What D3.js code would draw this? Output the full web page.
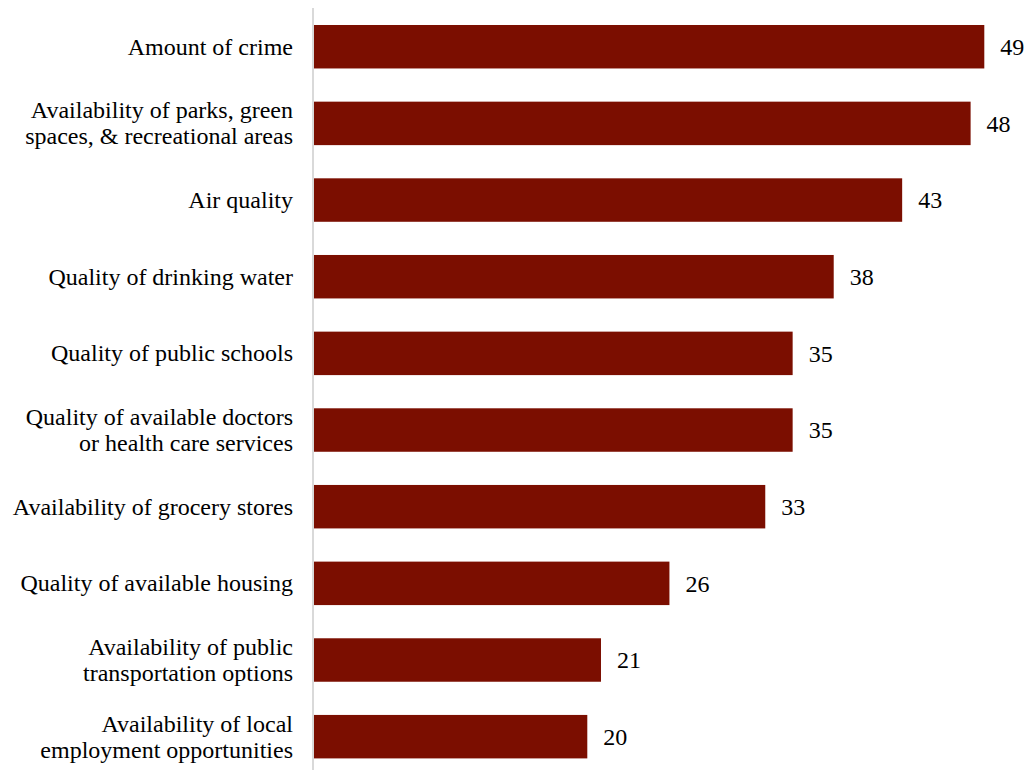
<!DOCTYPE html>
<html>
<head>
<meta charset="utf-8">
<script src="https://cdn.jsdelivr.net/npm/d3@7"></script>
<style>
  html, body { margin: 0; padding: 0; background: #fff; }
  svg { display: block; }
  text { font-family: "Liberation Serif", "Times New Roman", serif; fill: #000; }
</style>
</head>
<body>
<svg id="chart" width="1026" height="770"></svg>
<script>
// Category labels (each entry is a list of lines) and their values
const categories = [
  ["Amount of crime"],
  ["Availability of parks, green", "spaces, & recreational areas"],
  ["Air quality"],
  ["Quality of drinking water"],
  ["Quality of public schools"],
  ["Quality of available doctors", "or health care services"],
  ["Availability of grocery stores"],
  ["Quality of available housing"],
  ["Availability of public", "transportation options"],
  ["Availability of local", "employment opportunities"]
];
const values = [49, 48, 43, 38, 35, 35, 33, 26, 21, 20];

const width = 1026, height = 770;
const left = 313.5;
const fontSize = 24;
const svg = d3.select("#chart");

const x = d3.scaleLinear().domain([0, 49]).range([left, 984.3]);

const keys = categories.map((c, i) => i);
const y = d3.scaleBand()
  .domain(keys)
  .range([8.4, 775])
  .paddingInner(0.433)
  .paddingOuter(0.2165);

// Bars
svg.append("g")
  .selectAll("rect")
  .data(values)
  .join("rect")
  .attr("x", x(0))
  .attr("y", (d, i) => y(i))
  .attr("width", d => x(d) - x(0))
  .attr("height", y.bandwidth())
  .attr("fill", "#7b0e00");

// Value labels
svg.append("g")
  .selectAll("text")
  .data(values)
  .join("text")
  .attr("x", d => x(d) + 16)
  .attr("y", (d, i) => y(i) + y.bandwidth() / 2)
  .attr("dy", "0.35em")
  .attr("font-size", fontSize)
  .text(d => d);

// Category labels, right-aligned against the axis
const lineH = 26;
const lab = svg.append("g")
  .selectAll("text")
  .data(categories)
  .join("text")
  .attr("text-anchor", "end")
  .attr("font-size", fontSize)
  .attr("y", (d, i) => y(i) + y.bandwidth() / 2);
lab.selectAll("tspan")
  .data((d) => d.map((line, j) => ({ line, j, n: d.length })))
  .join("tspan")
  .attr("x", 293)
  .attr("dy", (t) => t.j === 0 ? (0.33 * fontSize - (t.n - 1) * lineH / 2) : lineH)
  .text(t => t.line);

// Vertical category axis line
svg.append("line")
  .attr("x1", 313).attr("x2", 313)
  .attr("y1", 8).attr("y2", 770)
  .attr("stroke", "#d9d9d9")
  .attr("stroke-width", 2);
</script>
</body>
</html>
